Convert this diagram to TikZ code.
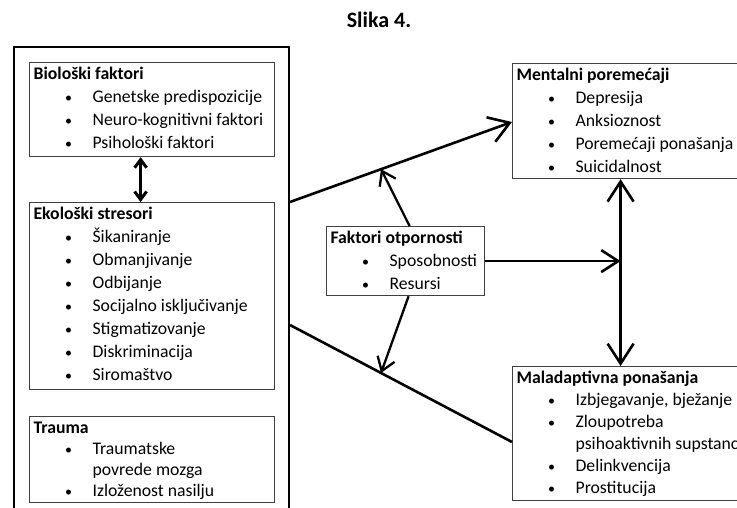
\documentclass[tikz,border=0pt]{standalone}
\usepackage{fontspec}
\setmainfont{Carlito}
\usetikzlibrary{arrows.meta,calc}

% one bullet line, and the wrapped rest of a bullet line
\newcommand{\itm}[1]{\\\hspace*{35pt}\makebox[0pt][c]{\fontsize{14}{14}\selectfont\textbullet}\hspace*{24pt}\mbox{#1}}
\newcommand{\cnt}[1]{\\\hspace*{59pt}\mbox{#1}}

\begin{document}
\begin{tikzpicture}[
  x=1pt, y=-1pt,
  frame/.style={draw=black!75, line width=1.2pt, anchor=north west, inner xsep=4pt, inner ysep=0pt,
    text height=17pt, font=\fontsize{17.7}{23}\selectfont},
  big/.style={line width=2.6pt, -{Straight Barb[length=20pt,width=26pt]}},
  mid/.style={line width=2.6pt, -{Straight Barb[length=17pt,width=22pt]}},
  small/.style={line width=2.3pt, -{Straight Barb[length=13pt,width=18pt]}},
  bigdbl/.style={line width=2.6pt, {Straight Barb[length=20pt,width=26pt]}-{Straight Barb[length=20pt,width=26pt]}},
  smalldbl/.style={line width=3pt, {Straight Barb[length=8pt,width=12pt]}-{Straight Barb[length=8pt,width=12pt]}},
  plain/.style={line width=2.6pt}
]
  \useasboundingbox (0,0) rectangle (737,508);
  \clip (0,0) rectangle (737,508);

  \node[font=\fontsize{22}{26}\selectfont\bfseries, anchor=base] (title) at (379,28) {Slika 4.};

  % left column
  \node[draw, line width=2pt, anchor=north west, minimum width=275pt, minimum height=500pt, inner sep=0pt] (outer) at (13,46) {};
  \node[frame, text depth=77pt] (bio) at (29,62) {\parbox[t]{237pt}{\textbf{Biološki faktori}%
    \itm{Genetske predispozicije}\itm{Neuro-kognitivni faktori}\itm{Psihološki faktori}}};
  \node[frame, text depth=170pt] (eko) at (29,202) {\parbox[t]{237pt}{\textbf{Ekološki stresori}%
    \itm{Šikaniranje}\itm{Obmanjivanje}\itm{Odbijanje}\itm{Socijalno isključivanje}%
    \itm{Stigmatizovanje}\itm{Diskriminacija}\itm{Siromaštvo}}};
  \node[frame, text depth=69pt, font=\fontsize{17.7}{21}\selectfont] (trauma) at (29,416) {\parbox[t]{237pt}{\textbf{Trauma}%
    \itm{Traumatske}\cnt{povrede mozga}\itm{Izloženost nasilju}}};

  % middle and right
  \node[frame, text depth=52pt] (fakt) at (326,226) {\parbox[t]{150pt}{\textbf{Faktori otpornosti}%
    \itm{Sposobnosti}\itm{Resursi}}};
  \node[frame, text depth=98pt] (mental) at (512,63) {\parbox[t]{217pt}{\textbf{Mentalni poremećaji}%
    \itm{Depresija}\itm{Anksioznost}\itm{Poremećaji ponašanja}\itm{Suicidalnost}}};
  \node[frame, text depth=117pt, font=\fontsize{17.7}{22}\selectfont] (malad) at (512,366) {\parbox[t]{252pt}{\textbf{Maladaptivna ponašanja}%
    \itm{Izbjegavanje, bježanje}\itm{Zloupotreba}\cnt{psihoaktivnih supstanci}%
    \itm{Delinkvencija}\itm{Prostitucija}}};

  % connectors
  \draw[smalldbl] ([xshift=-11.5pt]bio.south) -- ([xshift=-11.5pt]eko.north);

  \coordinate (up) at ([yshift=-156pt]outer.north east);
  \coordinate (lo) at ([yshift=-279pt]outer.north east);
  \coordinate (m1) at ([yshift=-59pt]mental.north west);
  \coordinate (m2) at ([yshift=-76pt]malad.north west);
  \draw[big] (up) -- (m1);
  \draw[plain] (lo) -- (m2);

  \coordinate (pu) at ($(up)!0.41!(m1)$);
  \coordinate (pl) at ($(lo)!0.41!(m2)$);
  \draw[small] ([xshift=4pt]fakt.north) -- (pu);
  \draw[small] ([xshift=3pt]fakt.south) -- (pl);

  \coordinate (vx) at ([xshift=-4.5pt]mental.south);
  \coordinate (jn) at (vx |- fakt.east);
  \draw[mid] (fakt.east) -- (jn);
  \draw[bigdbl] (vx) -- (vx |- malad.north);
\end{tikzpicture}
\end{document}
